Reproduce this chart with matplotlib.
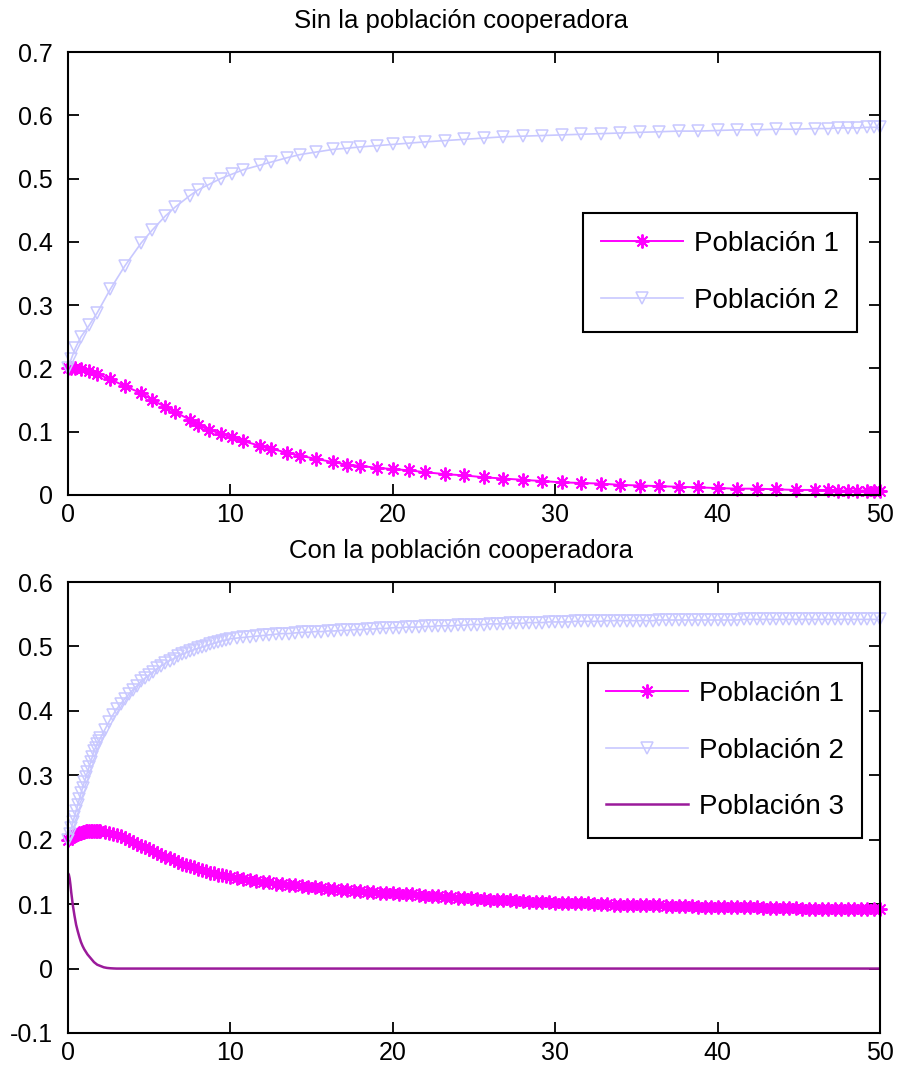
import matplotlib
matplotlib.use("Agg")
import matplotlib.pyplot as plt

# ---------------- data ----------------
title_top = "Sin la población cooperadora"
title_bot = "Con la población cooperadora"
labels = ["Población 1", "Población 2", "Población 3"]

x_ticks = [0, 10, 20, 30, 40, 50]
x_ticklabels = ["0", "10", "20", "30", "40", "50"]
y_ticks_top = [0, 0.1, 0.2, 0.3, 0.4, 0.5, 0.6, 0.7]
y_ticklabels_top = ["0", "0.1", "0.2", "0.3", "0.4", "0.5", "0.6", "0.7"]
y_ticks_bot = [-0.1, 0, 0.1, 0.2, 0.3, 0.4, 0.5, 0.6]
y_ticklabels_bot = ["-0.1", "0", "0.1", "0.2", "0.3", "0.4", "0.5", "0.6"]

# top panel (solver steps)
t_top = [0, 0.2, 0.45, 0.8, 1.3, 1.8, 2.6, 3.5, 4.5, 5.2, 6.0, 6.6, 7.5, 8.0,
         8.7, 9.4, 10.1, 10.8, 11.8, 12.5, 13.5, 14.3, 15.3, 16.3, 17.2, 18.0,
         19.0, 20.0, 21.0, 22.0, 23.2, 24.4, 25.6, 26.8, 28.0, 29.2, 30.4,
         31.6, 32.8, 34.0, 35.2, 36.4, 37.6, 38.8, 40.0, 41.2, 42.4, 43.6,
         44.8, 46.0, 46.8, 47.4, 48.0, 48.6, 49.2, 49.6, 50.0]
p1_top = [0.200, 0.200, 0.200, 0.199, 0.196, 0.191, 0.183, 0.172, 0.161, 0.150,
          0.139, 0.131, 0.119, 0.110, 0.103, 0.097, 0.091, 0.085, 0.078, 0.073,
          0.067, 0.062, 0.057, 0.052, 0.048, 0.046, 0.043, 0.041, 0.039, 0.036,
          0.033, 0.031, 0.028, 0.026, 0.024, 0.022, 0.020, 0.019, 0.018, 0.016,
          0.015, 0.014, 0.013, 0.012, 0.011, 0.010, 0.010, 0.009, 0.008, 0.008,
          0.008, 0.007, 0.007, 0.007, 0.007, 0.006, 0.006]
p2_top = [0.200, 0.215, 0.232, 0.250, 0.268, 0.288, 0.325, 0.362, 0.398, 0.419,
          0.441, 0.455, 0.473, 0.482, 0.491, 0.500, 0.507, 0.514, 0.521, 0.526,
          0.533, 0.538, 0.542, 0.546, 0.548, 0.550, 0.552, 0.554, 0.556, 0.558,
          0.560, 0.562, 0.564, 0.566, 0.567, 0.568, 0.569, 0.570, 0.571, 0.572,
          0.573, 0.574, 0.575, 0.575, 0.576, 0.577, 0.577, 0.578, 0.578, 0.579,
          0.579, 0.580, 0.580, 0.580, 0.581, 0.581, 0.581]

# bottom panel (solver steps)
t_bot = [0.0, 0.1, 0.2, 0.3, 0.4, 0.5, 0.6, 0.7, 0.8, 0.9, 1.0, 1.1, 1.2, 1.3,
         1.4, 1.5, 1.6, 1.7, 1.8, 1.9, 2.0,
         2.25, 2.5, 2.75, 3.0, 3.25, 3.5, 3.75, 4.0, 4.25, 4.5, 4.75, 5.0, 5.25,
         5.5, 5.75, 6.0, 6.25, 6.5, 6.75, 7.0, 7.25, 7.5, 7.75, 8.0, 8.25, 8.5,
         8.75, 9.0, 9.25, 9.5, 9.75, 10.0,
         10.4, 10.8, 11.2, 11.6, 12.0, 12.4, 12.8, 13.2, 13.6, 14.0,
         14.4, 14.8, 15.2, 15.6, 16.0, 16.4, 16.8, 17.2, 17.6, 18.0,
         18.4, 18.8, 19.2, 19.6, 20.0, 20.4, 20.8, 21.2, 21.6, 22.0,
         22.4, 22.8, 23.2, 23.6, 24.0, 24.4, 24.8, 25.2, 25.6, 26.0,
         26.4, 26.8, 27.2, 27.6, 28.0, 28.4, 28.8, 29.2, 29.6, 30.0,
         30.4, 30.8, 31.2, 31.6, 32.0, 32.4, 32.8, 33.2, 33.6, 34.0,
         34.4, 34.8, 35.2, 35.6, 36.0, 36.4, 36.8, 37.2, 37.6, 38.0,
         38.4, 38.8, 39.2, 39.6, 40.0, 40.4, 40.8, 41.2, 41.6, 42.0,
         42.4, 42.8, 43.2, 43.6, 44.0, 44.4, 44.8, 45.2, 45.6, 46.0,
         46.4, 46.8, 47.2, 47.6, 48.0, 48.4, 48.8, 49.2, 49.6, 50.0]
p1_bot = [0.200, 0.202, 0.204, 0.206, 0.207, 0.208, 0.209, 0.210, 0.211, 0.212,
          0.212, 0.213, 0.213, 0.213, 0.214, 0.214, 0.214, 0.214, 0.213, 0.213,
          0.213,
          0.212, 0.211, 0.209, 0.207, 0.205, 0.203, 0.200, 0.197, 0.194, 0.191,
          0.188, 0.185, 0.182, 0.179, 0.176, 0.173, 0.171, 0.168, 0.166, 0.163,
          0.161, 0.159, 0.157, 0.155, 0.153, 0.151, 0.149, 0.148, 0.146, 0.145,
          0.143, 0.142,
          0.140, 0.139, 0.137, 0.136, 0.135, 0.134, 0.132, 0.131, 0.130, 0.129,
          0.128, 0.127, 0.126, 0.125, 0.124, 0.123, 0.122, 0.122, 0.121, 0.120,
          0.119, 0.119, 0.118, 0.117, 0.117, 0.116, 0.115, 0.115, 0.114, 0.113,
          0.113, 0.112, 0.111, 0.111, 0.110, 0.110, 0.109, 0.108, 0.108, 0.107,
          0.107, 0.106, 0.106, 0.105, 0.105, 0.104, 0.104, 0.103, 0.103, 0.102,
          0.102, 0.102, 0.101, 0.101, 0.101, 0.100, 0.100, 0.100, 0.099, 0.099,
          0.099, 0.099, 0.098, 0.098, 0.098, 0.098, 0.097, 0.097, 0.097, 0.097,
          0.097, 0.096, 0.096, 0.096, 0.096, 0.096, 0.095, 0.095, 0.095, 0.095,
          0.095, 0.094, 0.094, 0.094, 0.094, 0.094, 0.094, 0.093, 0.093, 0.093,
          0.093, 0.093, 0.093, 0.093, 0.092, 0.092, 0.092, 0.092, 0.092, 0.092]
p2_bot = [0.200, 0.209, 0.218, 0.227, 0.236, 0.245, 0.254, 0.263, 0.272, 0.281,
          0.289, 0.297, 0.305, 0.313, 0.321, 0.329, 0.338, 0.343, 0.348, 0.353,
          0.358,
          0.370, 0.382, 0.393, 0.403, 0.411, 0.419, 0.426, 0.433, 0.439, 0.446,
          0.451, 0.456, 0.461, 0.466, 0.470, 0.474, 0.478, 0.481, 0.485, 0.488,
          0.490, 0.493, 0.495, 0.497, 0.499, 0.501, 0.503, 0.505, 0.507, 0.509,
          0.510, 0.512,
          0.513, 0.514, 0.515, 0.516, 0.517, 0.518, 0.519, 0.520, 0.520, 0.521,
          0.522, 0.522, 0.523, 0.523, 0.524, 0.524, 0.525, 0.525, 0.526, 0.526,
          0.527, 0.527, 0.528, 0.528, 0.529, 0.529, 0.530, 0.530, 0.530, 0.531,
          0.531, 0.532, 0.532, 0.532, 0.533, 0.533, 0.534, 0.534, 0.534, 0.535,
          0.535, 0.535, 0.536, 0.536, 0.536, 0.537, 0.537, 0.537, 0.538, 0.538,
          0.538, 0.538, 0.539, 0.539, 0.539, 0.539, 0.539, 0.540, 0.540, 0.540,
          0.540, 0.540, 0.540, 0.540, 0.540, 0.541, 0.541, 0.541, 0.541, 0.541,
          0.541, 0.541, 0.541, 0.541, 0.541, 0.541, 0.541, 0.541, 0.542, 0.542,
          0.542, 0.542, 0.542, 0.542, 0.542, 0.542, 0.542, 0.542, 0.542, 0.542,
          0.542, 0.542, 0.542, 0.542, 0.542, 0.542, 0.542, 0.542, 0.542, 0.542]
t_p3 = [0, 0.05, 0.1, 0.15, 0.2, 0.3, 0.4, 0.5, 0.6, 0.7, 0.8, 0.9, 1.0, 1.2,
        1.4, 1.6, 1.8, 2.0, 2.2, 2.4, 2.6, 2.8, 3.0, 50]
p3_bot = [0.148, 0.146, 0.140, 0.130, 0.118, 0.098, 0.082, 0.068, 0.058, 0.049,
          0.041, 0.035, 0.030, 0.022, 0.016, 0.010, 0.006, 0.004, 0.002, 0.001,
          0.0005, 0.0002, 0.0, 0.0]

# ---------------- style ----------------
plt.rcParams["font.family"] = ["Liberation Sans", "DejaVu Sans"]
plt.rcParams["axes.unicode_minus"] = False

C1 = "#ff00ff"
C2 = "#c8c8ff"
C3 = "#9a1a9a"

fig = plt.figure(figsize=(8.98, 10.70), dpi=100)
W = 812 / 898
L = 68 / 898
ax1 = fig.add_axes([L, 1 - 495 / 1070, W, 443 / 1070])
ax2 = fig.add_axes([L, 1 - 1033 / 1070, W, 451 / 1070])

star = (8, 2, 0)


def style(ax, yt, ytl, ylim, title):
    ax.set_xlim(0, 50)
    ax.set_ylim(*ylim)
    ax.set_xticks(x_ticks)
    ax.set_xticklabels(x_ticklabels)
    ax.set_yticks(yt)
    ax.set_yticklabels(ytl)
    ax.tick_params(direction="in", length=8, width=1.3, top=True, right=True,
                   labelsize=18, colors="black")
    ax.tick_params(axis="x", pad=6)
    ax.tick_params(axis="y", pad=11)
    for s in ax.spines.values():
        s.set_linewidth(1.5)
        s.set_color("black")
    ax.set_title(title, fontsize=18.5, pad=17)
    ax.title.set_x((461 - 68) / 812)


def legend(ax, right_px, top_px, bottom_px, height_px):
    lg = ax.legend(loc="upper right",
                   bbox_to_anchor=((right_px - 68) / 812, (bottom_px - top_px) / height_px),
                   borderaxespad=0, fontsize=20, fancybox=False, framealpha=1,
                   edgecolor="black", handlelength=2.95, handletextpad=0.4,
                   borderpad=0.65, labelspacing=1.1)
    lg.get_frame().set_linewidth(1.5)
    return lg


# top
ax1.plot(t_top, p1_top, color=C1, lw=1.4, marker=star, ms=10, mew=1.4,
         label=labels[0], clip_on=False)
ax1.plot(t_top, p2_top, color=C2, lw=1.2, marker="v", ms=8.5, mew=1.1,
         mfc="none", label=labels[1], clip_on=False)
style(ax1, y_ticks_top, y_ticklabels_top, (0, 0.7), title_top)
legend(ax1, 857, 213, 495, 443)

# bottom
ax2.plot(t_bot, p1_bot, color=C1, lw=1.4, marker=star, ms=10, mew=1.4,
         label=labels[0], clip_on=False)
ax2.plot(t_bot, p2_bot, color=C2, lw=1.2, marker="v", ms=8.5, mew=1.1,
         mfc="none", label=labels[1], clip_on=False)
ax2.plot(t_p3, p3_bot, color=C3, lw=1.8, label=labels[2])
style(ax2, y_ticks_bot, y_ticklabels_bot, (-0.1, 0.6), title_bot)
legend(ax2, 862, 663, 1033, 451)

fig.savefig("out.png", dpi=100, facecolor="white")
